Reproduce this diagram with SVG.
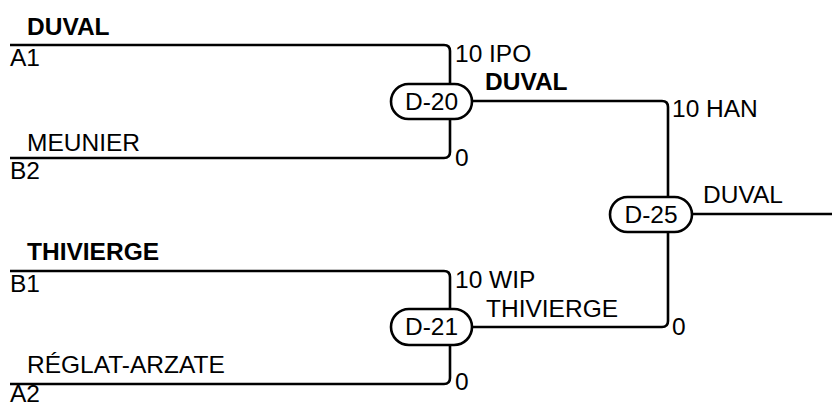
<svg xmlns="http://www.w3.org/2000/svg" width="832" height="406" viewBox="0 0 832 406">
<style>
text{font-family:"Liberation Sans",Arial,sans-serif;font-size:24.5px;fill:#000}
.b{font-weight:bold}
.m{text-anchor:middle}
.ln{fill:none;stroke:#000;stroke-width:2.6}
.pill{fill:#fff;stroke:#000;stroke-width:2.6}
</style>
<rect width="832" height="406" fill="#fff"/>
<g id="connectors">
<path class="ln" d="M10,45 H444 Q450,45 450,51 V152 Q450,158 444,158 H10"/>
<path class="ln" d="M10,271 H444 Q450,271 450,277 V378 Q450,384 444,384 H10"/>
<path class="ln" d="M472,101 H662 Q668,101 668,107 V321 Q668,327 662,327 H472"/>
<path class="ln" d="M692,214 H832"/>
</g>
<g id="labels">
<text class="b" x="27" y="35">DUVAL</text>
<text x="10" y="66">A1</text>
<text x="27" y="151">MEUNIER</text>
<text x="10" y="179">B2</text>
<text class="b" x="27" y="260">THIVIERGE</text>
<text x="10" y="292">B1</text>
<text x="27" y="373">RÉGLAT-ARZATE</text>
<text x="10" y="402">A2</text>
<text x="455" y="62">10 IPO</text>
<text x="455" y="166">0</text>
<text class="b" x="485" y="90">DUVAL</text>
<text x="672" y="117">10 HAN</text>
<text x="455" y="288">10 WIP</text>
<text x="455" y="390">0</text>
<text x="486" y="317">THIVIERGE</text>
<text x="672" y="335">0</text>
<text x="703" y="203">DUVAL</text>
</g>
<g id="D-20">
<rect class="pill" x="391" y="84" width="81" height="35" rx="17.5"/>
<text class="m" x="431.5" y="110">D-20</text>
</g>
<g id="D-21">
<rect class="pill" x="391" y="309" width="81" height="36" rx="18"/>
<text class="m" x="431.5" y="335">D-21</text>
</g>
<g id="D-25">
<rect class="pill" x="610" y="197" width="82" height="35" rx="17.5"/>
<text class="m" x="651" y="223">D-25</text>
</g>
</svg>
